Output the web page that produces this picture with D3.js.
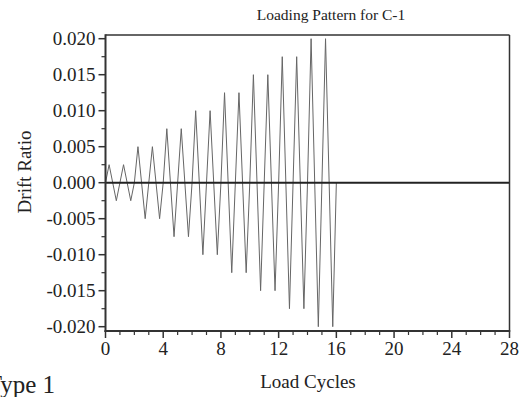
<!DOCTYPE html>
<html><head><meta charset="utf-8">
<script src="https://cdn.jsdelivr.net/npm/d3@7"></script>
<style>
html,body{margin:0;padding:0;background:#fff;}
svg{display:block;}
text{font-family:"Liberation Serif","Times New Roman",serif;fill:#222;}
</style></head>
<body>
<svg id="c" width="528" height="397"></svg>
<script>
// Data
const cycleIndex = [0,1,2,3,4,5,6,7,8,9,10,11,12,13,14,15];
const cycleAmplitude = [0.0025,0.0025,0.005,0.005,0.0075,0.0075,0.010,0.010,0.0125,0.0125,0.015,0.015,0.0175,0.0175,0.020,0.020];
const xTickLabels = [0,4,8,12,16,20,24,28];
const yTickLabels = [-0.020,-0.015,-0.010,-0.005,0.000,0.005,0.010,0.015,0.020];
const titleText = "Loading Pattern for C-1";
const xLabel = "Load Cycles";
const yLabel = "Drift Ratio";

// Build triangular cycle points from amplitudes
const pts = [];
cycleIndex.forEach((c,i)=>{
  const a = cycleAmplitude[i];
  pts.push([c,0],[c+0.25,a],[c+0.5,0],[c+0.75,-a]);
});
pts.push([cycleIndex.length,0]);

const svg = d3.select("#c");
const L=105.5, R=509.5, T=35, B=331;
const x = d3.scaleLinear().domain([0,28]).range([L,R]);
const y = d3.scaleLinear().domain([-0.020,0.020]).range([326.7,38.7]);

const axisCol="#333";
const g = svg.append("g");
// Y axis
const yMinor = d3.range(-0.0175,0.0200,0.005);
g.selectAll(".ym").data(yMinor).enter().append("line")
  .attr("x1",L-4).attr("x2",L).attr("y1",d=>y(d)).attr("y2",d=>y(d))
  .attr("stroke",axisCol).attr("stroke-width",1.2);
g.selectAll(".yM").data(yTickLabels).enter().append("line")
  .attr("x1",L-7).attr("x2",L).attr("y1",d=>y(d)).attr("y2",d=>y(d))
  .attr("stroke",axisCol).attr("stroke-width",1.5);
g.selectAll(".yl").data(yTickLabels).enter().append("text")
  .attr("x",L-10).attr("y",d=>y(d)).attr("dy","0.35em")
  .attr("text-anchor","end").attr("font-size",19)
  .text(d=>(d<0?"-":"")+Math.abs(d).toFixed(3));
// X axis
const xMinor = d3.range(0,29,1).filter(d=>d%4!==0);
g.selectAll(".xm").data(xMinor).enter().append("line")
  .attr("x1",d=>x(d)).attr("x2",d=>x(d)).attr("y1",B).attr("y2",B+4)
  .attr("stroke",axisCol).attr("stroke-width",1.2);
g.selectAll(".xM").data(xTickLabels).enter().append("line")
  .attr("x1",d=>x(d)).attr("x2",d=>x(d)).attr("y1",B).attr("y2",B+7)
  .attr("stroke",axisCol).attr("stroke-width",1.5);
g.selectAll(".xl").data(xTickLabels).enter().append("text")
  .attr("x",d=>x(d)).attr("y",355)
  .attr("text-anchor","middle").attr("font-size",19)
  .text(d=>d);

// data line
const line = d3.line().x(d=>x(d[0])).y(d=>y(d[1]));
svg.append("path").datum(pts).attr("d",line)
  .attr("fill","none").attr("stroke","#666").attr("stroke-width",1);

// zero line
svg.append("line").attr("x1",L).attr("x2",R).attr("y1",y(0)).attr("y2",y(0))
  .attr("stroke","#222").attr("stroke-width",2);

// frame
svg.append("line").attr("x1",L).attr("x2",R).attr("y1",T).attr("y2",T).attr("stroke",axisCol).attr("stroke-width",1.5);
svg.append("line").attr("x1",R).attr("x2",R).attr("y1",T).attr("y2",B).attr("stroke",axisCol).attr("stroke-width",1.5);
svg.append("line").attr("x1",L).attr("x2",L).attr("y1",T-0.75).attr("y2",B+1).attr("stroke",axisCol).attr("stroke-width",2);
svg.append("line").attr("x1",L-1).attr("x2",R+0.75).attr("y1",B).attr("y2",B).attr("stroke",axisCol).attr("stroke-width",2);

// titles
svg.append("text").attr("x",331).attr("y",20).attr("text-anchor","middle").attr("font-size",15.5).text(titleText);
svg.append("text").attr("x",308).attr("y",388).attr("text-anchor","middle").attr("font-size",19).text(xLabel);
svg.append("text").attr("transform","translate(31,172) rotate(-90)").attr("text-anchor","middle").attr("font-size",19).text(yLabel);
svg.append("text").attr("x",55).attr("y",393).attr("text-anchor","end").attr("font-size",25).text("Type 1");
</script>
</body></html>
